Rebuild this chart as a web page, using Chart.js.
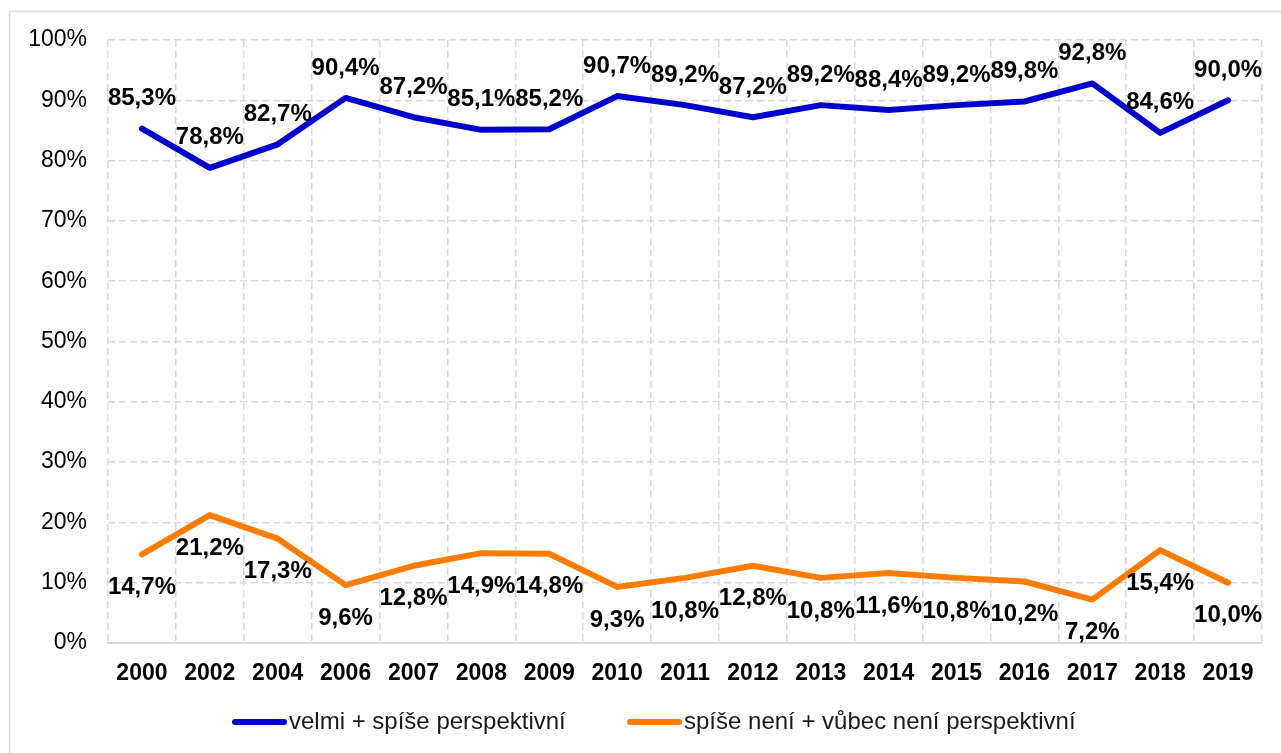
<!DOCTYPE html>
<html>
<head>
<meta charset="utf-8">
<script src="https://cdn.jsdelivr.net/npm/chart.js@4/dist/chart.umd.min.js"></script>
<style>
  html, body { margin: 0; padding: 0; background: #fff; }
  #wrap { position: relative; width: 1281px; height: 753px; }
</style>
</head>
<body>
<div id="wrap"><canvas id="c" width="1281" height="753"></canvas></div>
<script>
const years = ["2000","2002","2004","2006","2007","2008","2009","2010","2011","2012","2013","2014","2015","2016","2017","2018","2019"];
const positive = [85.3, 78.8, 82.7, 90.4, 87.2, 85.1, 85.2, 90.7, 89.2, 87.2, 89.2, 88.4, 89.2, 89.8, 92.8, 84.6, 90.0];
const negative = [14.7, 21.2, 17.3, 9.6, 12.8, 14.9, 14.8, 9.3, 10.8, 12.8, 10.8, 11.6, 10.8, 10.2, 7.2, 15.4, 10.0];
const seriesNames = ["velmi + spíše perspektivní", "spíše není + vůbec není perspektivní"];
const yTicks = [0, 10, 20, 30, 40, 50, 60, 70, 80, 90, 100];

const FONT = "'Liberation Sans', Arial, sans-serif";
const BLUE = "#0000CC";
const ORANGE = "#FF7C00";
const GRID = "#D9D9D9";

const fmt = v => v.toFixed(1).replace('.', ',') + '%';

const labelPlugin = {
  id: 'valueLabels',
  afterDatasetsDraw(chart) {
    const ctx = chart.ctx;
    ctx.save();
    ctx.font = "bold 24px " + FONT;
    ctx.fillStyle = "#000";
    ctx.textAlign = "center";
    ctx.textBaseline = "middle";
    chart.data.datasets.forEach((ds, di) => {
      const meta = chart.getDatasetMeta(di);
      meta.data.forEach((pt, i) => {
        const off = di === 0 ? -30 : 33;
        ctx.fillText(fmt(ds.data[i]), pt.x, pt.y + off);
      });
    });
    ctx.restore();
  }
};

const frameLegendPlugin = {
  id: 'frameLegend',
  beforeDraw(chart) {
    const ctx = chart.ctx;
    ctx.save();
    ctx.fillStyle = "#fff";
    ctx.fillRect(0, 0, chart.width, chart.height);
    ctx.strokeStyle = GRID;
    ctx.lineWidth = 1.5;
    ctx.beginPath();
    ctx.moveTo(9.5, 760);
    ctx.lineTo(9.5, 11.5);
    ctx.lineTo(1290, 11.5);
    ctx.stroke();
    ctx.restore();
  },
  afterDraw(chart) {
    const ctx = chart.ctx;
    ctx.save();
    ctx.font = "24px " + FONT;
    ctx.textBaseline = "middle";
    ctx.textAlign = "left";
    const starts = [232, 627];
    const y = 722;
    chart.data.datasets.forEach((ds, di) => {
      const x = starts[di];
      ctx.strokeStyle = ds.borderColor;
      ctx.lineWidth = 6;
      ctx.lineCap = "round";
      ctx.beginPath();
      ctx.moveTo(x + 3, y);
      ctx.lineTo(x + 52, y);
      ctx.stroke();
      ctx.fillStyle = "#1a1a1a";
      ctx.fillText(ds.label, x + 57, y);
    });
    ctx.restore();
  }
};

new Chart(document.getElementById('c'), {
  type: 'line',
  data: {
    labels: years,
    datasets: [
      { label: seriesNames[0], data: positive, borderColor: BLUE, backgroundColor: BLUE, borderWidth: 6, pointRadius: 0, tension: 0, borderJoinStyle: 'round', borderCapStyle: 'round' },
      { label: seriesNames[1], data: negative, borderColor: ORANGE, backgroundColor: ORANGE, borderWidth: 6, pointRadius: 0, tension: 0, borderJoinStyle: 'round', borderCapStyle: 'round' }
    ]
  },
  options: {
    responsive: false,
    animation: false,
    devicePixelRatio: 1,
    layout: { padding: { left: 0, top: 40, right: 19, bottom: 55 } },
    plugins: { legend: { display: false }, tooltip: { enabled: false } },
    scales: {
      x: {
        offset: true,
        grid: { offset: true, color: GRID, lineWidth: 1.5, drawTicks: false },
        border: { display: true, color: GRID, width: 2, dash: [7, 4] },
        ticks: { color: "#000", font: { family: FONT, size: 23, weight: 'bold' }, padding: 17, maxRotation: 0, autoSkip: false },
        afterFit(s) { s.height = 55; }
      },
      y: {
        min: 0, max: 100,
        afterBuildTicks(s) { s.ticks = yTicks.map(v => ({ value: v })); },
        grid: { color: GRID, lineWidth: 1.5, drawTicks: false },
        border: { display: false, dash: [7, 4] },
        ticks: { color: "#000", font: { family: FONT, size: 23 }, padding: 21, callback: v => v + '%' },
        afterFit(s) { s.width = 108; }
      }
    }
  },
  plugins: [labelPlugin, frameLegendPlugin]
});
</script>
</body>
</html>
